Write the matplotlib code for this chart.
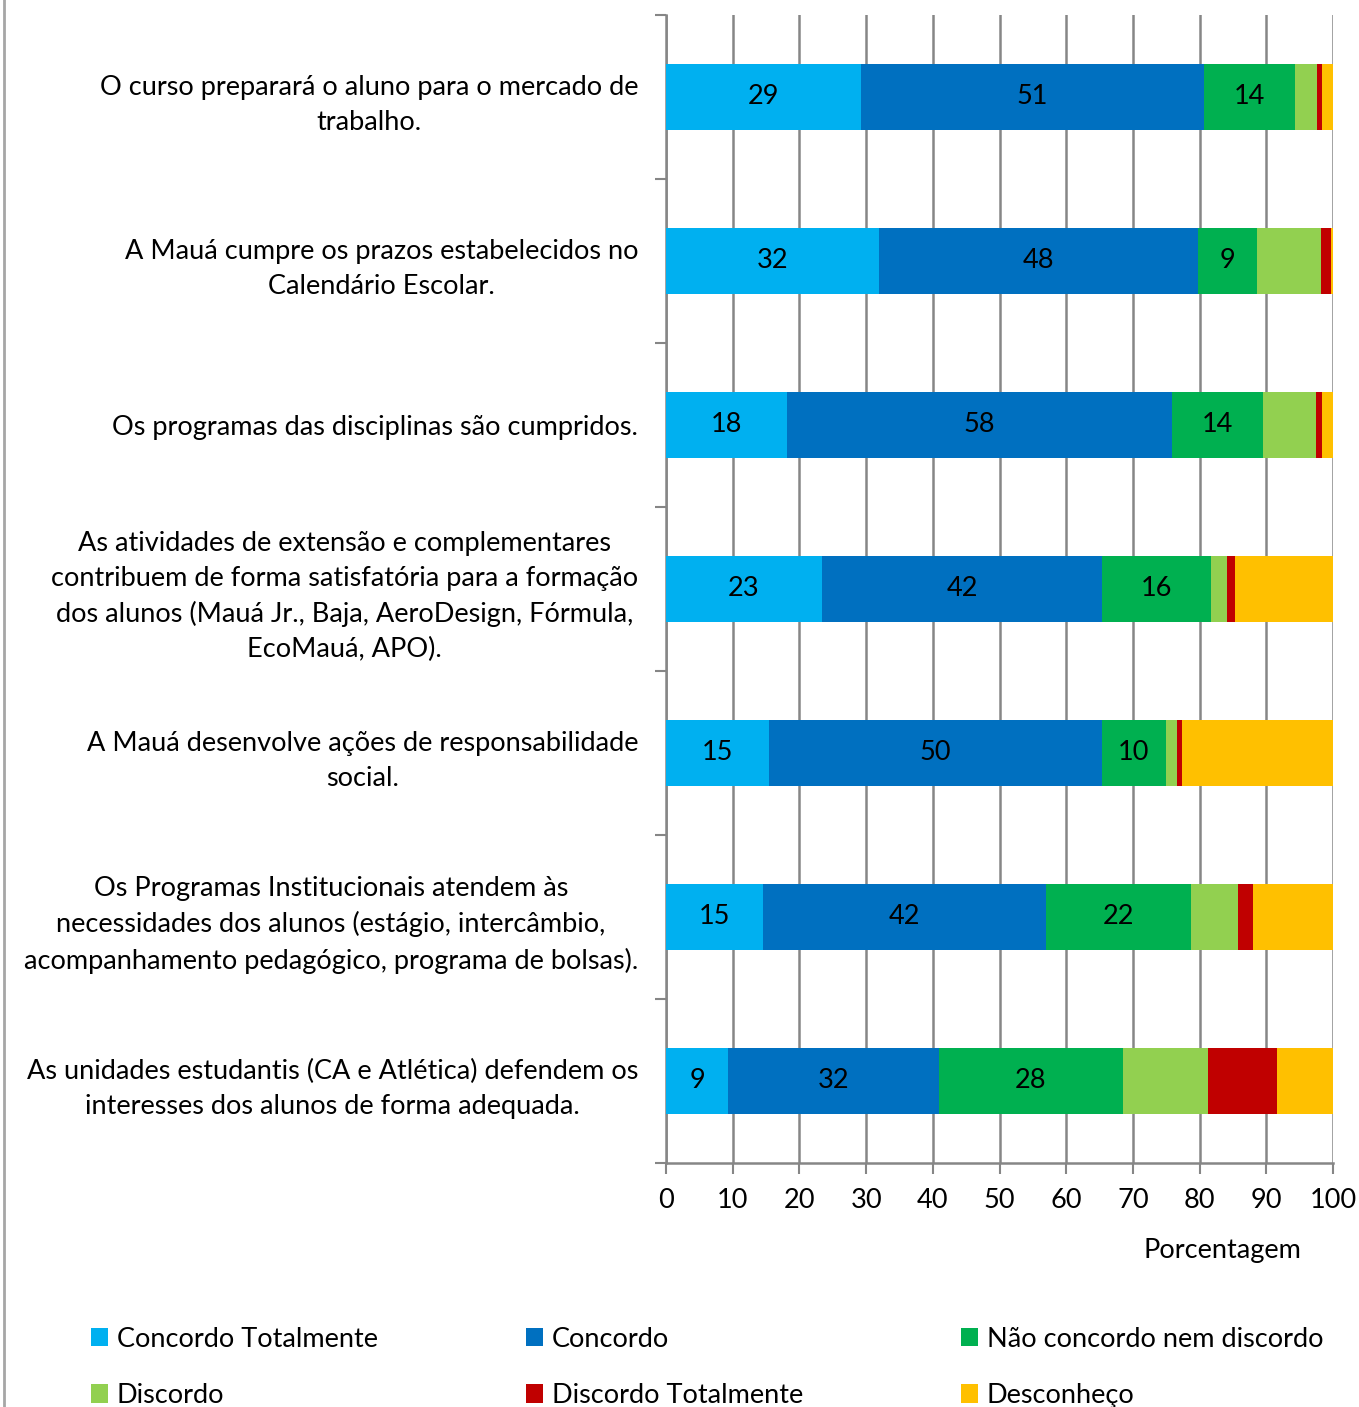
import matplotlib.pyplot as plt
import numpy as np
from matplotlib.lines import Line2D

plt.rcParams['font.family'] = ['Lato', 'DejaVu Sans']

# Questions (top to bottom)
questions = [
    'O curso preparará o aluno para o mercado de\ntrabalho.',
    'A Mauá cumpre os prazos estabelecidos no\nCalendário Escolar.',
    'Os programas das disciplinas são cumpridos.',
    'As atividades de extensão e complementares\ncontribuem de forma satisfatória para a formação\ndos alunos (Mauá Jr., Baja, AeroDesign, Fórmula,\nEcoMauá, APO).',
    'A Mauá desenvolve ações de responsabilidade\nsocial.',
    'Os Programas Institucionais atendem às\nnecessidades dos alunos (estágio, intercâmbio,\nacompanhamento pedagógico, programa de bolsas).',
    'As unidades estudantis (CA e Atlética) defendem os\ninteresses dos alunos de forma adequada.',
]

categories = ['Concordo Totalmente', 'Concordo', 'Não concordo nem discordo',
              'Discordo', 'Discordo Totalmente', 'Desconheço']
colors = ['#00b0f0', '#0070c0', '#00b050', '#92d050', '#c00000', '#ffc000']

# Percentages per answer (one value per question)
concordo_tot = [29.2, 31.9, 18.1, 23.4, 15.4, 14.6, 9.3]
concordo = [51.4, 47.9, 57.8, 42.0, 49.9, 42.4, 31.6]
nem = [13.7, 8.8, 13.6, 16.3, 9.6, 21.7, 27.6]
discordo = [3.3, 9.6, 7.9, 2.4, 1.7, 7.0, 12.8]
discordo_tot = [0.7, 1.5, 1.0, 1.2, 0.7, 2.3, 10.3]
desconheco = [1.7, 0.3, 1.6, 14.7, 22.7, 12.0, 8.5]

series = [concordo_tot, concordo, nem, discordo, discordo_tot, desconheco]
labelled = [True, True, True, False, False, False]

FS = 19.5

fig = plt.figure(figsize=(13.59, 14.07), dpi=100)
ax = fig.add_axes([666 / 1359, 1 - 1163 / 1407, 667 / 1359, 1148 / 1407])

y = np.arange(len(questions))
left = np.zeros(len(questions))
bars = []
for vals, col, name, lab in zip(series, colors, categories, labelled):
    b = ax.barh(y, vals, left=left, height=0.4, color=col, label=name, zorder=3)
    bars.append(b)
    if lab:
        ax.bar_label(b, labels=[f'{v:.0f}' for v in vals], label_type='center',
                     fontsize=FS, color='black')
    left += np.array(vals)

ax.set_xlim(0, 100)
ax.set_ylim(len(questions) - 0.5, -0.5)
ax.set_xticks(np.arange(0, 101, 10))
ax.set_yticks(y)
ax.set_yticklabels(questions, linespacing=1.5, multialignment='center')
ax.set_yticks(np.arange(-0.5, len(questions)), minor=True)
ax.tick_params(axis='y', which='major', length=0, pad=20, labelsize=FS)
ax.tick_params(axis='y', which='minor', length=8, width=1.5, color='#868686')
ax.tick_params(axis='x', length=8, width=1.5, color='#868686', labelsize=FS, pad=10)

ax.grid(axis='x', color='#868686', linewidth=1.8, zorder=0)
for s in ['top', 'right']:
    ax.spines[s].set_visible(False)
for s in ['left', 'bottom']:
    ax.spines[s].set_color('#868686')
    ax.spines[s].set_linewidth(1.8)

ax.set_xlabel('Porcentagem', fontsize=FS)
ax.xaxis.set_label_coords(0.834, -0.065)

# legend: three columns of two entries, rows read left to right
col_x = [80, 515, 950]
for k, cx in enumerate(col_x):
    idx = [k, k + 3]
    fig.legend([bars[i] for i in idx], [categories[i] for i in idx],
               loc='upper left', bbox_to_anchor=(cx / 1359, 1 - 1316 / 1407),
               frameon=False, fontsize=FS, handlelength=0.65, handleheight=0.65,
               handletextpad=0.3, labelspacing=1.15, borderaxespad=0)

# chart frame line on the left
fig.add_artist(Line2D([4 / 1359, 4 / 1359], [0, 1], color='#a6a6a6', linewidth=2))

fig.savefig('out.png', dpi=100)
